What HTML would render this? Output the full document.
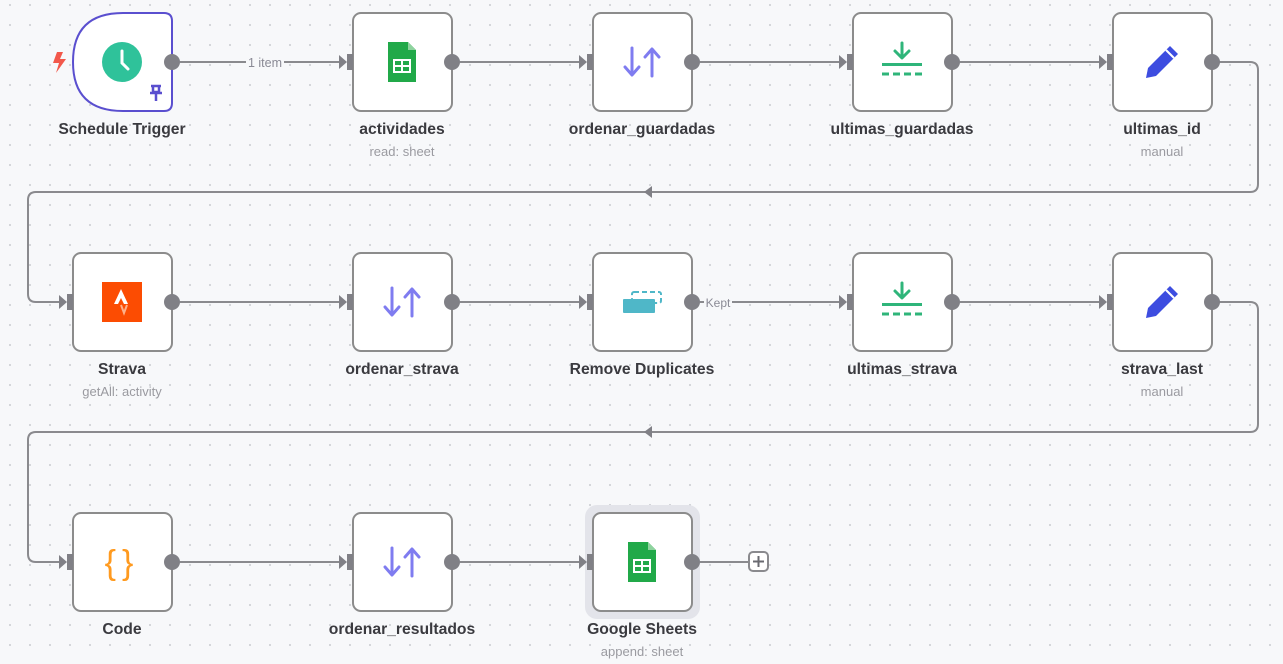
<!DOCTYPE html>
<html><head><meta charset="utf-8"><style>
html,body{margin:0;padding:0;background:#f7f8fa;}
svg{display:block;font-family:"Liberation Sans",sans-serif;}
.n{fill:#fff;stroke:#8c8c8c;stroke-width:2;}
.e{fill:none;stroke:#8a8a8e;stroke-width:2;}
.t{font-size:15.7px;font-weight:600;fill:#3a3a3f;text-anchor:middle;}
.s{font-size:13px;fill:#9a9aa0;text-anchor:middle;}
.d{fill:#808086;}
</style></head><body>
<svg width="1283" height="664" viewBox="0 0 1283 664">
<defs>
<pattern id="g" width="20" height="20" patternUnits="userSpaceOnUse" x="8" y="3">
<circle cx="2" cy="2" r="1" fill="#c9cbd0"/></pattern>
<g id="in"><path d="M-8,-7 L0,0 L-8,7Z" fill="#808086"/><rect x="0" y="-8" width="6" height="16" fill="#808086"/></g>
<g id="sort"><path d="M-10,-14 V12 M-17,5 L-10,13 L-3,5 M10,14 V-12 M3,-5 L10,-13 L17,-5" stroke="#7f7cf0" stroke-width="3" fill="none" stroke-linecap="round" stroke-linejoin="round"/></g>
<g id="dl"><path d="M0,-19 V-5 M-7,-11 L0,-4 L7,-11" stroke="#2fb57a" stroke-width="3" fill="none" stroke-linecap="round" stroke-linejoin="round"/><rect x="-20" y="1" width="40" height="3" fill="#2fb57a"/><path d="M-20,12 H20" stroke="#2fb57a" stroke-width="3" stroke-dasharray="7,4"/></g>
<g id="pen"><path d="M-16,16 L-14,6 L8,-16 L16,-8 L-6,14 Z" fill="#3d4de0"/><path d="M4,-12 L12,-4" stroke="#fff" stroke-width="2"/></g>
<g id="sheet"><path d="M-14,-20 H6 L14,-12 V20 H-14 Z" fill="#21a949"/><path d="M6,-20 V-12 H14Z" fill="#8ed39e"/><rect x="-8" y="-2" width="16" height="12" fill="none" stroke="#fff" stroke-width="2"/><path d="M-8,4 H8 M0,-2 V10" stroke="#fff" stroke-width="2"/></g>
</defs>
<rect width="1283" height="664" fill="url(#g)"/>

<path class="e" d="M180,62 H343 M460,62 H583 M700,62 H843 M960,62 H1103"/>
<path class="e" d="M1212,62 H1250 Q1258,62 1258,70 V184 Q1258,192 1250,192 H36 Q28,192 28,200 V294 Q28,302 36,302 H63"/>
<path d="M644,192 L652,186 L652,198Z" fill="#808086"/>
<path class="e" d="M180,302 H343 M460,302 H583 M700,302 H843 M960,302 H1103"/>
<path class="e" d="M1212,302 H1250 Q1258,302 1258,310 V424 Q1258,432 1250,432 H36 Q28,432 28,440 V554 Q28,562 36,562 H63"/>
<path d="M644,432 L652,426 L652,438Z" fill="#808086"/>
<path class="e" d="M180,562 H343 M460,562 H583 M700,562 H748"/>
<rect x="749" y="552" width="19" height="19" rx="4" fill="#fff" stroke="#8a8a8e" stroke-width="2"/>
<path d="M753,561.5 H764 M758.5,556 V567" stroke="#6a6a70" stroke-width="2"/>
<rect x="246" y="55" width="38" height="14" fill="#f7f8fa"/>
<text x="265" y="67" font-size="12.5" fill="#8a8a95" text-anchor="middle">1 item</text>
<rect x="704" y="295" width="28" height="14" fill="#f7f8fa"/>
<text x="718" y="307" font-size="12" fill="#8a8a95" text-anchor="middle">Kept</text>

<path d="M123,13 H164 Q172,13 172,21 V103 Q172,111 164,111 H123 Q73,111 73,62 Q73,13 123,13Z" fill="#fff" stroke="#5a4fcf" stroke-width="2"/>
<circle cx="122" cy="62" r="20" fill="#2fc29a"/>
<path d="M122,51 V63 L128,69" stroke="#fff" stroke-width="3" fill="none" stroke-linecap="round"/>
<path d="M57,52 L53,63 H59 L56,73 L66,59 H60 L63,52Z" fill="#f2584b"/>
<path d="M151,86 H161 M153,86 V92 H159 V86 M150,93 H162 M156,93 V101" stroke="#5a4fcf" stroke-width="2.5" fill="none"/>
<circle class="d" cx="172" cy="62" r="8"/>
<text class="t" x="122" y="134">Schedule Trigger</text>

<rect class="n" x="353" y="13" width="99" height="98" rx="8"/>
<use href="#in" x="347" y="62"/><circle class="d" cx="452" cy="62" r="8"/>
<use href="#sheet" x="402" y="62"/>
<text class="t" x="402" y="134">actividades</text><text class="s" x="402" y="156">read: sheet</text>

<rect class="n" x="593" y="13" width="99" height="98" rx="8"/>
<use href="#in" x="587" y="62"/><circle class="d" cx="692" cy="62" r="8"/>
<use href="#sort" x="642" y="62"/>
<text class="t" x="642" y="134">ordenar_guardadas</text>

<rect class="n" x="853" y="13" width="99" height="98" rx="8"/>
<use href="#in" x="847" y="62"/><circle class="d" cx="952" cy="62" r="8"/>
<use href="#dl" x="902" y="62"/>
<text class="t" x="902" y="134">ultimas_guardadas</text>

<rect class="n" x="1113" y="13" width="99" height="98" rx="8"/>
<use href="#in" x="1107" y="62"/><circle class="d" cx="1212" cy="62" r="8"/>
<use href="#pen" x="1162" y="62"/>
<text class="t" x="1162" y="134">ultimas_id</text><text class="s" x="1162" y="156">manual</text>

<rect class="n" x="73" y="253" width="99" height="98" rx="8"/>
<use href="#in" x="67" y="302"/><circle class="d" cx="172" cy="302" r="8"/>
<rect x="102" y="282" width="40" height="40" fill="#fc4c02"/>
<path d="M114,304 L121,289 L128,304 L124,304 L121,298 L118,304Z" fill="#fff"/>
<path d="M121,305 L124,313 L127,305" fill="none" stroke="#fdb08a" stroke-width="2"/>
<text class="t" x="122" y="374">Strava</text><text class="s" x="122" y="396">getAll: activity</text>

<rect class="n" x="353" y="253" width="99" height="98" rx="8"/>
<use href="#in" x="347" y="302"/><circle class="d" cx="452" cy="302" r="8"/>
<use href="#sort" x="402" y="302"/>
<text class="t" x="402" y="374">ordenar_strava</text>

<rect class="n" x="593" y="253" width="99" height="98" rx="8"/>
<use href="#in" x="587" y="302"/><circle class="d" cx="692" cy="302" r="8"/>
<rect x="632" y="292" width="29" height="11" rx="2" fill="none" stroke="#4fb7c8" stroke-width="2" stroke-dasharray="5,3"/>
<rect x="623" y="299" width="32" height="14" rx="1" fill="#4fb7c8"/>
<text class="t" x="642" y="374">Remove Duplicates</text>

<rect class="n" x="853" y="253" width="99" height="98" rx="8"/>
<use href="#in" x="847" y="302"/><circle class="d" cx="952" cy="302" r="8"/>
<use href="#dl" x="902" y="302"/>
<text class="t" x="902" y="374">ultimas_strava</text>

<rect class="n" x="1113" y="253" width="99" height="98" rx="8"/>
<use href="#in" x="1107" y="302"/><circle class="d" cx="1212" cy="302" r="8"/>
<use href="#pen" x="1162" y="302"/>
<text class="t" x="1162" y="374">strava_last</text><text class="s" x="1162" y="396">manual</text>

<rect class="n" x="73" y="513" width="99" height="98" rx="8"/>
<use href="#in" x="67" y="562"/><circle class="d" cx="172" cy="562" r="8"/>
<text x="122" y="574" font-size="34" fill="#ff9a1f" text-anchor="middle" font-family="Liberation Sans,sans-serif" letter-spacing="6">{}</text>
<text class="t" x="122" y="634">Code</text>

<rect class="n" x="353" y="513" width="99" height="98" rx="8"/>
<use href="#in" x="347" y="562"/><circle class="d" cx="452" cy="562" r="8"/>
<use href="#sort" x="402" y="562"/>
<text class="t" x="402" y="634">ordenar_resultados</text>

<rect x="585" y="505" width="115" height="114" rx="12" fill="#e3e4ea"/>
<rect class="n" x="593" y="513" width="99" height="98" rx="8"/>
<use href="#in" x="587" y="562"/><circle class="d" cx="692" cy="562" r="8"/>
<use href="#sheet" x="642" y="562"/>
<text class="t" x="642" y="634">Google Sheets</text><text class="s" x="642" y="656">append: sheet</text>
</svg>
</body></html>
